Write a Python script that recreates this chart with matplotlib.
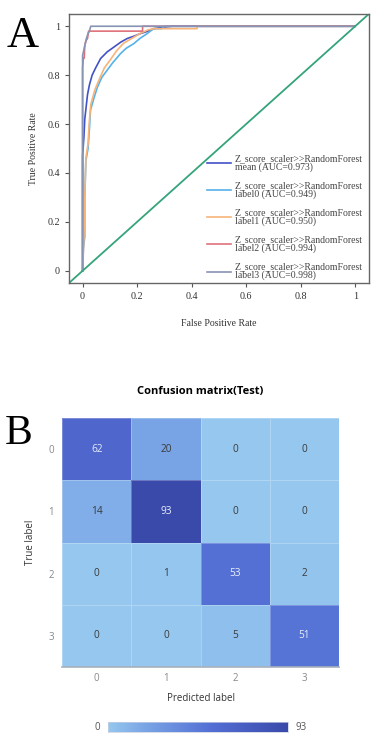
import matplotlib.pyplot as plt
import numpy as np
from matplotlib.colors import LinearSegmentedColormap

# ROC curves (fpr, tpr)
mean_fpr = [0, 0.0, 0.005, 0.008, 0.012, 0.018, 0.025, 0.035, 0.048, 0.066, 0.09, 0.115, 0.14, 0.164, 0.19, 0.212, 0.24, 0.261, 0.3, 0.33, 1.0]
mean_tpr = [0, 0.47, 0.55, 0.62, 0.66, 0.72, 0.76, 0.80, 0.83, 0.868, 0.895, 0.915, 0.935, 0.95, 0.96, 0.97, 0.98, 0.99, 0.997, 1.0, 1.0]

l0_fpr = [0, 0.003, 0.008, 0.008, 0.012, 0.02, 0.025, 0.029, 0.04, 0.054, 0.07, 0.09, 0.11, 0.139, 0.16, 0.188, 0.21, 0.237, 0.26, 0.29, 0.3, 1.0]
l0_tpr = [0, 0.09, 0.14, 0.30, 0.45, 0.50, 0.58, 0.657, 0.70, 0.75, 0.79, 0.82, 0.85, 0.888, 0.91, 0.929, 0.95, 0.97, 0.99, 0.99, 1.0, 1.0]

l1_fpr = [0, 0.005, 0.008, 0.012, 0.02, 0.024, 0.03, 0.045, 0.06, 0.08, 0.1, 0.125, 0.15, 0.18, 0.21, 0.24, 0.26, 0.42, 0.42, 1.0]
l1_tpr = [0, 0.14, 0.30, 0.46, 0.52, 0.60, 0.68, 0.74, 0.78, 0.83, 0.86, 0.90, 0.93, 0.95, 0.97, 0.985, 0.99, 0.99, 1.0, 1.0]

l2_fpr = [0, 0.0, 0.003, 0.006, 0.008, 0.012, 0.018, 0.022, 0.22, 0.22, 1.0]
l2_tpr = [0, 0.83, 0.87, 0.87, 0.92, 0.94, 0.95, 0.98, 0.98, 1.0, 1.0]

l3_fpr = [0, 0.0, 0.008, 0.014, 0.02, 0.025, 0.03, 1.0]
l3_tpr = [0, 0.88, 0.92, 0.95, 0.97, 0.98, 1.0, 1.0]

roc_names = ['mean', 'label0', 'label1', 'label2', 'label3']
roc_auc = [0.973, 0.949, 0.950, 0.994, 0.998]
roc_colors = ['#4352c6', '#55b2ea', '#f7b479', '#e0717c', '#8794b4']
roc_ticks = [0, 0.2, 0.4, 0.6, 0.8, 1]
roc_tick_labels = ['0', '0.2', '0.4', '0.6', '0.8', '1']

# confusion matrix for panel B
classes = ['0', '1', '2', '3']
cm = np.array([[62, 20, 0, 0],
               [14, 93, 0, 0],
               [0, 1, 53, 2],
               [0, 0, 5, 51]])

serif = 'Liberation Serif'
sans = 'Open Sans'

fig = plt.figure(figsize=(3.81, 7.38), dpi=100)

# ---- Panel A: ROC ----
ax = fig.add_axes([0.181, 0.6165, 0.787, 0.3645])
curves = [(mean_fpr, mean_tpr), (l0_fpr, l0_tpr), (l1_fpr, l1_tpr), (l2_fpr, l2_tpr), (l3_fpr, l3_tpr)]
for (fx, fy), name, auc, col in zip(curves, roc_names, roc_auc, roc_colors):
    ax.plot(fx, fy, color=col, lw=1.2,
            label='Z_score_scaler>>RandomForest\n%s (AUC=%.3f)' % (name, auc))
ax.plot([-0.05, 1.05], [-0.05, 1.05], color='#35a47a', lw=1.3)
ax.set_xlim(-0.05, 1.05)
ax.set_ylim(-0.05, 1.05)
ax.set_xticks(roc_ticks)
ax.set_xticklabels(roc_tick_labels)
ax.set_yticks(roc_ticks)
ax.set_yticklabels(roc_tick_labels)
ax.tick_params(length=3, width=0.8, color='#555555', labelcolor='#333333', labelsize=7.3,
               labelfontfamily=serif)
for s in ax.spines.values():
    s.set_color('#666666')
    s.set_linewidth(1.0)
ax.set_xlabel('False Positive Rate', family=serif, fontsize=7, color='#333333', labelpad=13)
ax.set_ylabel('True Positive Rate', family=serif, fontsize=7, color='#333333', labelpad=7)
ax.legend(loc='lower right', bbox_to_anchor=(1.0, -0.012), frameon=False,
          prop={'family': serif, 'size': 7}, handlelength=2.4,
          handletextpad=0.45, labelspacing=0.95, borderaxespad=0.2)
for t in ax.get_legend().get_texts():
    t.set_color('#444444')
    t.set_linespacing(0.9)

fig.text(0.018, 0.978, 'A', family=serif, fontsize=32, va='top', ha='left')

# ---- Panel B: confusion matrix ----
cmap = LinearSegmentedColormap.from_list('cmblue', [(0.0, '#96c7ef'), (0.2, '#7aa6e6'),
                                                    (0.57, '#5470d5'), (0.67, '#4f66cc'),
                                                    (1.0, '#3a4aab')])
bx = fig.add_axes([0.163, 0.0962, 0.727, 0.3374])
bx.pcolormesh(np.arange(5), np.arange(5), cm, cmap=cmap, vmin=0, vmax=cm.max(),
              edgecolor=(1, 1, 1, 0.25), linewidth=0.6)
bx.set_xlim(0, 4)
bx.set_ylim(4, 0)
for i in range(4):
    for j in range(4):
        v = cm[i, j]
        bx.text(j + 0.5, i + 0.5, str(v), ha='center', va='center', fontsize=7.3,
                family=sans, color='#e9eef9' if v > 40 else '#3a3a3a')
bx.set_xticks(np.arange(4) + 0.5)
bx.set_xticklabels(classes)
bx.set_yticks(np.arange(4) + 0.5)
bx.set_yticklabels(classes)
bx.tick_params(axis='x', length=0, labelsize=7, labelcolor='#888888', pad=4, labelfontfamily=sans)
bx.tick_params(axis='y', length=0, labelsize=7, labelcolor='#888888', pad=6, labelfontfamily=sans)
for k, s in bx.spines.items():
    s.set_visible(k == 'bottom')
bx.spines['bottom'].set_color('#a8b0bc')
bx.spines['bottom'].set_linewidth(1.2)
bx.set_xlabel('Predicted label', family=sans, fontsize=7, color='#333333', labelpad=7)
bx.set_ylabel('True label', family=sans, fontsize=7, color='#333333', labelpad=9)
bx.set_title('Confusion matrix(Test)', family=sans, fontsize=8, fontweight='bold', pad=17)

fig.text(0.013, 0.438, 'B', family=serif, fontsize=30, va='top', ha='left')

# colorbar
cax = fig.add_axes([0.2835, 0.0081, 0.472, 0.0136])
grad = np.linspace(0, cm.max(), 256).reshape(1, -1)
cax.imshow(grad, aspect='auto', cmap=cmap, extent=[0, 1, 0, 1])
cax.set_xticks([])
cax.set_yticks([])
for s in cax.spines.values():
    s.set_color('#c8d0e0')
    s.set_linewidth(0.5)
cax.text(-0.045, 0.5, '0', transform=cax.transAxes, ha='right', va='center', fontsize=7,
         family=sans, color='#555555')
cax.text(1.04, 0.5, str(cm.max()), transform=cax.transAxes, ha='left', va='center', fontsize=7,
         family=sans, color='#555555')

fig.savefig('out.png', dpi=100)
